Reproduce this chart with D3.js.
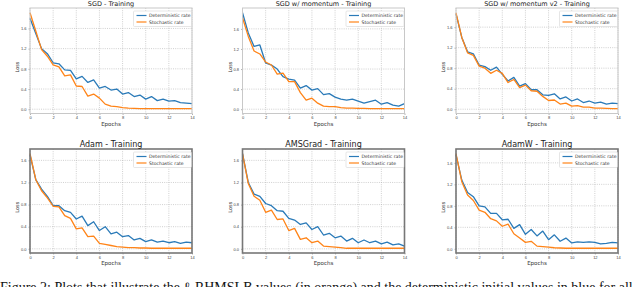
<!DOCTYPE html>
<html>
<head>
<meta charset="utf-8">
<script src="https://cdn.jsdelivr.net/npm/d3@7"></script>
<style>
  body { margin: 0; background: #fff; overflow: hidden; }
  svg { display: block; font-family: "DejaVu Sans", sans-serif; }
</style>
</head>
<body>
<div id="chart"></div>
<script>
// epochs sampled every half epoch
var epochs = d3.range(0, 14.01, 0.5);
var xTicks = [0, 2, 4, 6, 8, 10, 12, 14];
var yTicks = [0.0, 0.4, 0.8, 1.2, 1.6];
var titles = ["SGD - Training", "SGD w/ momentum - Training", "SGD w/ momentum v2 - Training",
              "Adam - Training", "AMSGrad - Training", "AdamW - Training"];
var seriesNames = ["Deterministic rate", "Stochastic rate"];

var sgdDet   = [1.80,1.50,1.20,1.10,0.92,0.90,0.78,0.77,0.60,0.65,0.53,0.58,0.42,0.45,0.38,0.40,0.30,0.33,0.25,0.28,0.20,0.25,0.17,0.20,0.16,0.17,0.13,0.12,0.11];
var sgdSto   = [1.91,1.55,1.18,1.05,0.88,0.84,0.66,0.68,0.46,0.45,0.26,0.30,0.22,0.10,0.06,0.05,0.03,0.02,0.015,0.01,0.01,0.01,0.01,0.01,0.01,0.01,0.01,0.01,0.01];
var sgdmDet  = [1.92,1.52,1.25,1.28,0.92,0.88,0.80,0.65,0.60,0.58,0.42,0.47,0.38,0.41,0.29,0.31,0.24,0.20,0.18,0.20,0.16,0.12,0.15,0.18,0.10,0.13,0.08,0.06,0.11];
var sgdmSto  = [1.82,1.45,1.16,1.10,0.94,0.88,0.70,0.72,0.55,0.55,0.33,0.18,0.22,0.12,0.06,0.05,0.05,0.03,0.02,0.02,0.015,0.015,0.01,0.01,0.01,0.01,0.01,0.01,0.01];
var sgdm2Det = [1.86,1.40,1.12,1.08,0.86,0.83,0.76,0.82,0.68,0.55,0.62,0.45,0.50,0.38,0.38,0.28,0.27,0.30,0.20,0.24,0.16,0.20,0.13,0.16,0.12,0.14,0.10,0.12,0.11];
var sgdm2Sto = [1.88,1.40,1.10,1.05,0.84,0.80,0.70,0.76,0.70,0.52,0.58,0.42,0.47,0.36,0.35,0.25,0.17,0.18,0.10,0.12,0.06,0.07,0.04,0.04,0.02,0.02,0.015,0.01,0.01];
var adamDet  = [1.70,1.25,1.08,0.95,0.78,0.78,0.69,0.66,0.54,0.59,0.42,0.49,0.33,0.40,0.27,0.30,0.22,0.24,0.16,0.19,0.13,0.16,0.12,0.14,0.11,0.13,0.10,0.12,0.11];
var adamSto  = [1.72,1.25,1.05,0.92,0.77,0.76,0.60,0.55,0.36,0.38,0.22,0.23,0.10,0.08,0.06,0.04,0.03,0.02,0.02,0.015,0.015,0.01,0.01,0.01,0.01,0.01,0.01,0.01,0.01];
var amsDet   = [1.72,1.20,0.99,0.95,0.82,0.78,0.69,0.68,0.55,0.52,0.44,0.47,0.35,0.40,0.25,0.28,0.20,0.23,0.14,0.19,0.11,0.16,0.11,0.14,0.09,0.12,0.07,0.09,0.05];
var amsSto   = [1.72,1.18,0.95,0.88,0.66,0.70,0.53,0.54,0.33,0.37,0.17,0.20,0.11,0.14,0.05,0.04,0.03,0.02,0.01,0.01,0.01,0.01,0.01,0.01,0.01,0.01,0.01,0.01,0.01];
var adamwDet = [1.75,1.28,1.05,0.97,0.80,0.78,0.66,0.66,0.54,0.55,0.38,0.45,0.27,0.36,0.24,0.33,0.17,0.26,0.14,0.20,0.11,0.13,0.12,0.13,0.12,0.09,0.10,0.12,0.11];
var adamwSto = [1.77,1.25,1.00,0.90,0.72,0.68,0.56,0.52,0.42,0.46,0.28,0.20,0.12,0.14,0.05,0.04,0.03,0.02,0.015,0.01,0.01,0.01,0.01,0.01,0.01,0.01,0.01,0.01,0.01];

var panelSeries = [[sgdDet, sgdSto], [sgdmDet, sgdmSto], [sgdm2Det, sgdm2Sto],
                   [adamDet, adamSto], [amsDet, amsSto], [adamwDet, adamwSto]];

var colors = ["#2a7ab8", "#ff8418"];
var width = 640, height = 287;

var colLeft = [30, 242.5, 456];
var plotW = 162;
var rowTop = [8, 149];
var rowH = [105.5, 104];
var rowFrame = [{ c: "#c8c8c8", w: 1 }, { c: "#777", w: 1.6 }];
var rowTitle = [{ size: 6.5, dy: -2 }, { size: 8, dy: -2 }];

var svg = d3.select("#chart").append("svg")
    .attr("width", width)
    .attr("height", height);

panelSeries.forEach(function (series, i) {
    var row = Math.floor(i / 3), col = i % 3;
    var x0 = colLeft[col], y0 = rowTop[row], h = rowH[row];

    // matplotlib style 5% padding on y
    var all = series[0].concat(series[1]);
    var lo = d3.min(all), hi = d3.max(all), pad = (hi - lo) * 0.05;

    var x = d3.scaleLinear().domain([0, 14]).range([0, plotW]);
    var y = d3.scaleLinear().domain([lo - pad, hi + pad]).range([h, 0]);

    var g = svg.append("g").attr("transform", "translate(" + x0 + "," + y0 + ")");

    // grid
    g.append("g").selectAll("line").data(xTicks).enter().append("line")
        .attr("x1", d => x(d)).attr("x2", d => x(d))
        .attr("y1", 0).attr("y2", h)
        .attr("stroke", "#b0b0b0").attr("stroke-width", 0.6)
        .attr("stroke-dasharray", "1,1.2");
    g.append("g").selectAll("line").data(yTicks).enter().append("line")
        .attr("x1", 0).attr("x2", plotW)
        .attr("y1", d => y(d)).attr("y2", d => y(d))
        .attr("stroke", "#b0b0b0").attr("stroke-width", 0.6)
        .attr("stroke-dasharray", "1,1.2");

    // axes
    var xAxis = g.append("g").attr("transform", "translate(0," + h + ")")
        .call(d3.axisBottom(x).tickValues(xTicks).tickSize(1.5).tickPadding(1.5).tickFormat(d3.format("d")));
    var yAxis = g.append("g")
        .call(d3.axisLeft(y).tickValues(yTicks).tickSize(1.5).tickPadding(2).tickFormat(d3.format(".1f")));
    [xAxis, yAxis].forEach(function (a) {
        a.select(".domain").remove();
        a.selectAll("text").attr("font-size", 4).attr("fill", "#444");
        a.selectAll("line").attr("stroke", "#666").attr("stroke-width", 0.5);
    });

    // lines
    var line = d3.line().x((d, j) => x(epochs[j])).y(d => y(d));
    series.forEach(function (s, k) {
        g.append("path").datum(s)
            .attr("fill", "none")
            .attr("stroke", colors[k])
            .attr("stroke-width", 1.3)
            .attr("stroke-linejoin", "round")
            .attr("d", line);
    });

    // frame
    g.append("rect").attr("width", plotW).attr("height", h)
        .attr("fill", "none")
        .attr("stroke", rowFrame[row].c)
        .attr("stroke-width", rowFrame[row].w);

    // title and labels
    g.append("text").attr("x", plotW / 2).attr("y", rowTitle[row].dy)
        .attr("text-anchor", "middle").attr("font-size", rowTitle[row].size)
        .attr("fill", "#222").text(titles[i]);
    g.append("text").attr("x", plotW / 2).attr("y", h + 12)
        .attr("text-anchor", "middle").attr("font-size", 5.5)
        .attr("fill", "#333").text("Epochs");
    g.append("text")
        .attr("transform", "translate(-11," + (h * 0.56) + ") rotate(-90)")
        .attr("text-anchor", "middle").attr("font-size", 5)
        .attr("fill", "#333").text("Loss");

    // legend
    var lw = 58, lh = 15.5;
    var leg = g.append("g").attr("transform", "translate(" + (plotW - lw - 0.5) + ",3)");
    leg.append("rect").attr("width", lw).attr("height", lh)
        .attr("fill", "#fff").attr("stroke", "#ccc").attr("stroke-width", 0.5).attr("rx", 1);
    seriesNames.forEach(function (n, k) {
        var ly = 4.5 + k * 6.5;
        leg.append("line").attr("x1", 3).attr("x2", 13).attr("y1", ly).attr("y2", ly)
            .attr("stroke", colors[k]).attr("stroke-width", 1.2);
        leg.append("text").attr("x", 15.5).attr("y", ly + 1.6)
            .attr("font-size", 4.6).attr("fill", "#333").text(n);
    });
});

// caption, cut by the bottom of the page as in the source
svg.append("text")
    .attr("x", 0).attr("y", 292)
    .attr("font-family", "'Liberation Serif', serif")
    .attr("font-size", 14)
    .attr("fill", "#111")
    .text("Figure 2: Plots that illustrate the \u2113-RHMSLB values (in orange) and the deterministic initial values in blue for all");
</script>
</body>
</html>
